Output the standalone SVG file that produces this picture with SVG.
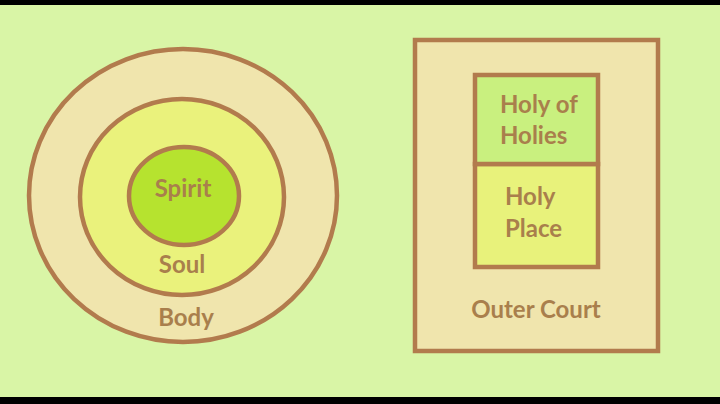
<svg xmlns="http://www.w3.org/2000/svg" width="720" height="404" viewBox="0 0 720 404">
<style>
.ln{stroke:#b27b4d;stroke-width:4.5}
.t{font-family:Lato,"Open Sans","Liberation Sans",sans-serif;font-weight:bold;font-size:24px;fill:#a97f4c}
.c{text-anchor:middle}
</style>
<rect x="0" y="0" width="720" height="404" fill="#d9f5a6"/>
<rect x="0" y="0" width="720" height="5" fill="#000"/>
<rect x="0" y="397" width="720" height="7" fill="#000"/>
<g id="body"><ellipse class="ln" cx="183" cy="195.5" rx="154" ry="146.5" fill="#f0e5ad"/><text class="t c" x="186" y="326">Body</text></g>
<g id="soul"><ellipse class="ln" cx="182" cy="197" rx="102" ry="98" fill="#eaf27c"/><text class="t c" x="182" y="273">Soul</text></g>
<g id="spirit"><ellipse class="ln" cx="184" cy="196" rx="55" ry="49" fill="#b6e32f"/><text class="t c" x="183" y="197">Spirit</text></g>
<g id="outer-court"><rect class="ln" x="415" y="40" width="243" height="311" fill="#f0e5ad"/><text class="t c" x="536" y="318">Outer Court</text></g>
<g id="holy-place"><rect class="ln" x="475" y="164" width="123" height="103" fill="#e8f27b"/><text class="t" x="505" y="205">Holy</text><text class="t" x="505" y="237">Place</text></g>
<g id="holy-of-holies"><rect class="ln" x="475" y="75" width="123" height="89" fill="#c9f07f"/><text class="t" x="500" y="113">Holy of</text><text class="t" x="500" y="144">Holies</text></g>
<g id="connectors"/>
</svg>
